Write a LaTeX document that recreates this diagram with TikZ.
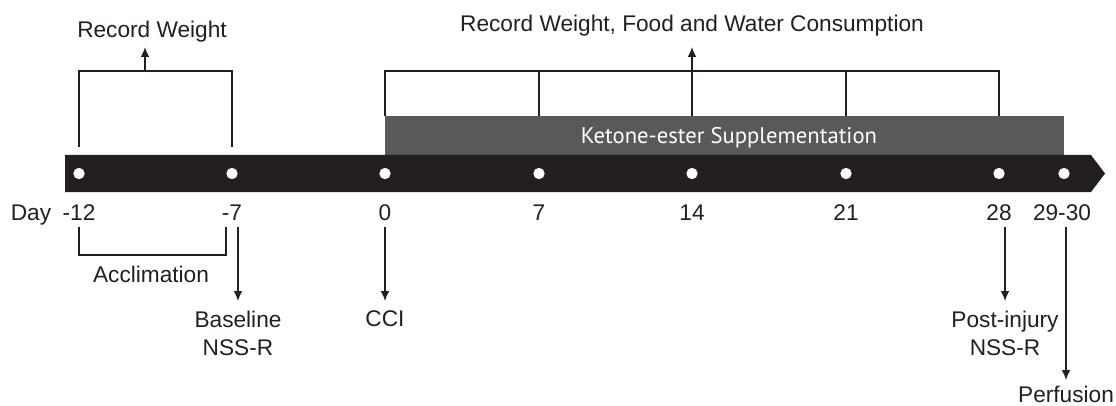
\documentclass[tikz,border=0pt]{standalone}
\usepackage{fontspec}
\setmainfont{Liberation Sans}
\newfontfamily\suppfont{PT Sans}
\usetikzlibrary{arrows.meta,positioning}
\definecolor{barblack}{HTML}{231F20}
\definecolor{suppgray}{HTML}{58595B}

\tikzset{
	dot/.style={circle, fill=white, inner sep=0pt, minimum size=8.5pt},
	lbl/.style={anchor=base, inner sep=0pt, text=barblack, font=\fontsize{17}{21}\selectfont},
	txt/.style={inner sep=0pt, text=barblack, align=center, font=\fontsize{17}{21}\selectfont},
	arr/.style={barblack, line width=0.9pt, -{Latex[length=7.5pt, width=6.5pt]}},
	brk/.style={barblack, line width=0.9pt},
}

\begin{document}
\begin{tikzpicture}[x=0.75pt, y=-0.75pt]
	\useasboundingbox (0,0) rectangle (1116,406);

	% supplementation bar
	\fill[suppgray] (385,116) rectangle (1064,155);
	\node[lbl, text=white, font=\suppfont\fontsize{17}{21}\selectfont] (supp) at (729,143) {Ketone-ester Supplementation};

	% time line
	\fill[barblack] (65,155) -- (1091,155) -- (1105,173.5) -- (1091,192) -- (65,192) -- cycle;

	% days
	\node[dot] (dm12) at (79,173.5) {};
	\node[dot] (dm7) at (232,173.5) {};
	\node[dot] (d0) at (385,173.5) {};
	\node[dot] (d7) at (539,173.5) {};
	\node[dot] (d14) at (692,173.5) {};
	\node[dot] (d21) at (846,173.5) {};
	\node[dot] (d28) at (999,173.5) {};
	\node[dot] (d29) at (1064,173.5) {};

	\node[lbl] (day) at (31,220) {Day};
	\node[lbl] (tm12) at (79,220) {-12};
	\node[lbl] (tm7) at (232,220) {-7};
	\node[lbl] (t0) at (385,220) {0};
	\node[lbl] (t7) at (539,220) {7};
	\node[lbl] (t14) at (692,220) {14};
	\node[lbl] (t21) at (846,220) {21};
	\node[lbl] (t28) at (999,220) {28};
	\node[lbl] (t29) at (1062,220) {29-30};

	% record weight (before injury)
	\draw[brk] (79,147) -- (79,71) -- (232,71) -- (232,147);
	\coordinate (rw) at (145,71);
	\node[lbl] (recw) at (152,38) {Record Weight};
	\draw[arr] (rw) -- (145,47);

	% record weight, food and water (after injury)
	\draw[brk] (385,116) -- (385,71) -- (999,71) -- (999,116);
	\draw[brk] (539,116) -- (539,71);
	\draw[brk] (846,116) -- (846,71);
	\coordinate (rwfw) at (692,116);
	\node[lbl] (recwfw) at (692,32) {Record Weight, Food and Water Consumption};
	\draw[arr] (rwfw) -- (692,47);

	% acclimation
	\draw[brk] (79,227) -- (79,255) -- (226,255) -- (226,227);
	\node[lbl] (accl) at (151,282) {Acclimation};

	% events
	\coordinate (bs) at (238,227);
	\coordinate (be) at (238,301);
	\draw[arr] (bs) -- (be);
	\node[txt, below=7pt of be] (baseline) {Baseline\\NSS-R};

	\coordinate (cs) at (385,227);
	\coordinate (ce) at (385,301);
	\draw[arr] (cs) -- (ce);
	\node[txt, below=7pt of ce] (cci) {CCI};

	\coordinate (ps) at (1005,227);
	\coordinate (pe) at (1005,301);
	\draw[arr] (ps) -- (pe);
	\node[txt, below=7pt of pe] (postinj) {Post-injury\\NSS-R};

	\coordinate (fs) at (1066,227);
	\coordinate (fe) at (1066,380);
	\draw[arr] (fs) -- (fe);
	\node[txt, below=4pt of fe] (perf) {Perfusion};

\end{tikzpicture}
\end{document}
